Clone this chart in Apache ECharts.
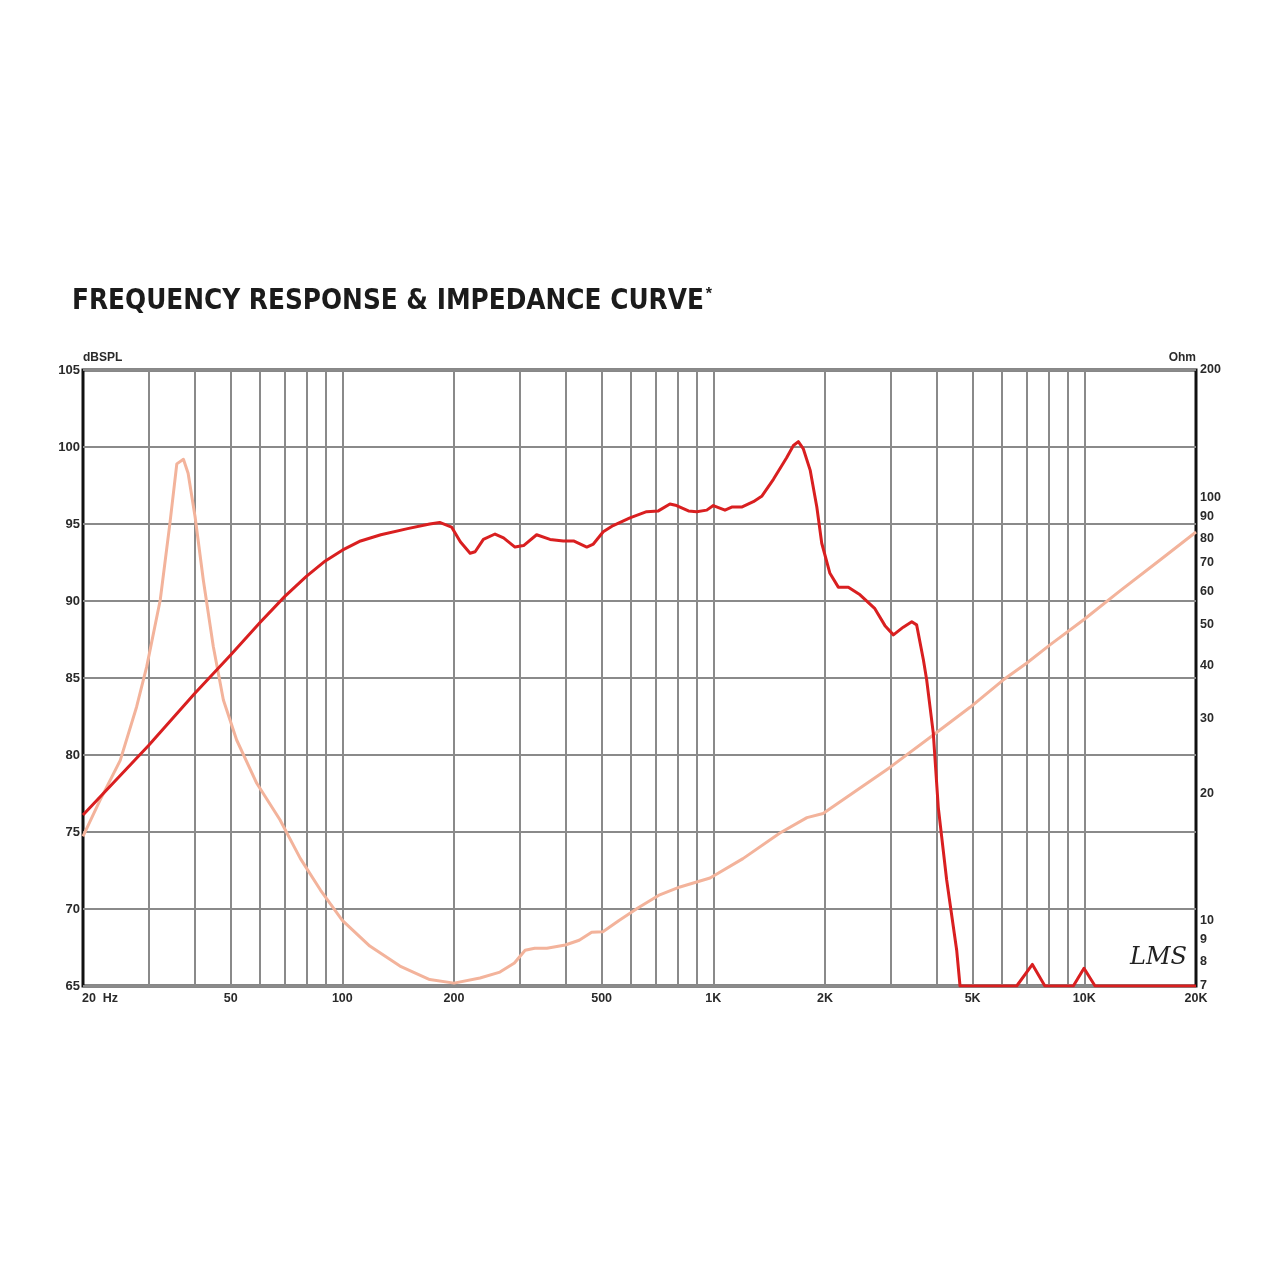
<!DOCTYPE html>
<html><head><meta charset="utf-8">
<script src="https://cdn.jsdelivr.net/npm/echarts@6/dist/echarts.min.js"></script>
<style>html,body{margin:0;padding:0;background:#fff}#c{width:1280px;height:1280px}</style>
</head><body><div id="c"></div>
<script>
// ---- data ----
const splFreq = [20,30,40,50,60,70,80,90,100,112,127,150,172,183,197,208,221,228,240,258,272,292,308,334,363,394,420,456,475,505,537,596,661,711,764,796,857,902,960,1000,1075,1121,1192,1282,1350,1452,1576,1644,1695,1747,1824,1901,1960,2062,2172,2312,2486,2726,2902,3058,3251,3427,3532,3682,3758,3917,4040,4255,4530,4624,6572,7245,7830,9340,9980,10690,20000];
const splDb   = [76.1,80.6,84.0,86.5,88.6,90.3,91.6,92.6,93.3,93.9,94.3,94.7,95.0,95.1,94.8,93.85,93.1,93.2,94.0,94.35,94.1,93.5,93.6,94.3,94.0,93.9,93.9,93.5,93.7,94.5,94.9,95.4,95.8,95.85,96.3,96.2,95.85,95.8,95.9,96.2,95.9,96.1,96.1,96.45,96.8,97.9,99.3,100.1,100.35,99.9,98.5,96.1,93.75,91.8,90.9,90.9,90.4,89.5,88.4,87.8,88.3,88.65,88.45,86.2,84.9,81.4,76.6,71.9,67.3,65,65,66.4,65,65,66.15,65,65];
const impFreq = [20,22.2,25.2,27.9,29.7,32.3,34.3,35.8,37.3,38.4,40.1,42.2,44.9,47.8,51.9,58.8,67.9,77.1,87.3,100,118.6,143,172,200,235,266,291,311,330,356,399,435,470,504,557,626,717,813,980,1202,1512,1788,1976,2377,2992,3908,4920,6040,7000,8080,10000,12480,16000,20000];
const impOhm  = [15.8,19.2,23.9,32.0,39.8,57.2,86.8,120,123,114,90,63.8,44.4,33.2,26.7,21.1,17.3,14.0,11.8,10.0,8.7,7.8,7.25,7.11,7.31,7.55,7.93,8.5,8.6,8.6,8.75,8.98,9.38,9.4,10.0,10.7,11.5,12.0,12.6,14.0,16.1,17.5,17.9,20.0,23.0,27.4,31.9,37.0,40.6,44.8,51.5,60.1,71.1,82.8];
const freqTickLabels = [20,50,100,200,500,1000,2000,5000,10000,20000];
const freqGridLines = [30,40,50,60,70,80,90,100,200,300,400,500,600,700,800,900,1000,2000,3000,4000,5000,6000,7000,8000,9000,10000];
const ohmTickLabels = [7,8,9,10,20,30,40,50,60,70,80,90,100,200];
const dbMin = 65, dbMax = 105, dbStep = 5;
const fMin = 20, fMax = 20000, ohmMin = 7, ohmMax = 200;

const lg = Math.log10;
const labelFont = '"Liberation Sans", Arial, sans-serif';
function fLabel(v){
  const f = Math.round(Math.pow(10, v));
  if (f === 20) return '{first|20  Hz}';
  return f >= 1000 ? (f/1000) + 'K' : String(f);
}

const chart = echarts.init(document.getElementById('c'), null, {renderer:'canvas'});
chart.setOption({
  backgroundColor: '#ffffff',
  animation: false,
  title: {
    text: '{m|FREQUENCY RESPONSE & IMPEDANCE CURVE}{s|*}',
    left: 67, top: 282,
    textStyle: {
      rich: {
        m: {fontFamily: '"Liberation Sans Narrow","DejaVu Sans Condensed",sans-serif', fontWeight: 'bold', fontSize: 27.6, color: '#1b1b1b'},
        s: {fontFamily: labelFont, fontWeight: 'bold', fontSize: 16, color: '#1b1b1b', verticalAlign: 'top', padding: [0,0,14,2]}
      }
    }
  },
  grid: {left: 83, right: 84, top: 370, bottom: 294, show: true, borderColor: '#111', borderWidth: 3, backgroundColor: 'transparent'},
  xAxis: {
    type: 'value', min: lg(fMin), max: lg(fMax),
    axisLine: {show: false},
    axisTick: {show: false, customValues: freqGridLines.map(lg)},
    splitLine: {show: true, lineStyle: {color: '#8a8a8a', width: 2}},
    axisLabel: {
      customValues: freqTickLabels.map(lg), formatter: fLabel, margin: 6,
      fontFamily: labelFont, fontWeight: 'bold', fontSize: 12.5, color: '#2a2a2a',
      rich: {first: {fontFamily: labelFont, fontWeight: 'bold', fontSize: 12.5, color: '#2a2a2a', padding: [0,0,0,34]}}
    }
  },
  yAxis: [{
    type: 'value', min: dbMin, max: dbMax, interval: dbStep, position: 'left',
    name: 'dBSPL', nameLocation: 'end', nameGap: 6,
    nameTextStyle: {align: 'left', verticalAlign: 'bottom', fontFamily: labelFont, fontWeight: 'bold', fontSize: 12, color: '#2a2a2a'},
    axisLine: {show: false}, axisTick: {show: false},
    splitLine: {show: true, lineStyle: {color: '#8a8a8a', width: 2}},
    axisLabel: {margin: 3, fontFamily: labelFont, fontWeight: 'bold', fontSize: 13, color: '#2a2a2a'}
  }, {
    type: 'value', min: lg(ohmMin), max: lg(ohmMax), position: 'right',
    name: 'Ohm', nameLocation: 'end', nameGap: 6,
    nameTextStyle: {align: 'right', verticalAlign: 'bottom', fontFamily: labelFont, fontWeight: 'bold', fontSize: 12, color: '#2a2a2a'},
    axisLine: {show: false}, axisTick: {show: false}, splitLine: {show: false},
    axisLabel: {customValues: ohmTickLabels.map(lg), formatter: v => String(Math.round(Math.pow(10, v))), margin: 4,
      fontFamily: labelFont, fontWeight: 'bold', fontSize: 12.5, color: '#2a2a2a'}
  }],
  graphic: [{
    type: 'text', left: 1130, top: 946,
    style: {text: 'LMS', font: 'italic 24px "DejaVu Serif", serif', fill: '#222'}
  }],
  series: [{
    name: 'Impedance', type: 'line', yAxisIndex: 1, showSymbol: false, smooth: false,
    lineStyle: {color: '#f3b39b', width: 3, join: 'round'},
    data: impFreq.map((f, i) => [lg(f), lg(impOhm[i])])
  }, {
    name: 'SPL', type: 'line', yAxisIndex: 0, showSymbol: false, smooth: false,
    lineStyle: {color: '#d91f20', width: 3, join: 'round'},
    data: splFreq.map((f, i) => [lg(f), splDb[i]])
  }]
});
</script></body></html>
